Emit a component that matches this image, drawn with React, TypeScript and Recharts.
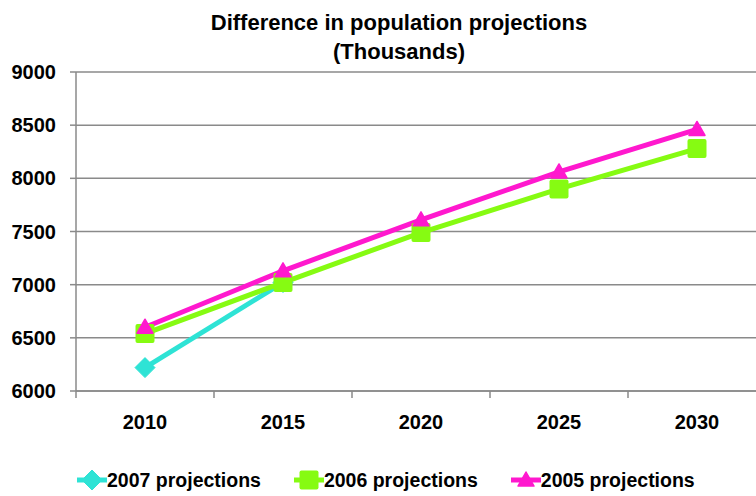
import React from 'react';
import { LineChart, Line, XAxis, YAxis, CartesianGrid } from 'recharts';

const years = ['2010', '2015', '2020', '2025', '2030'];
const proj2007 = [6220, 7020, null, null, null];
const proj2006 = [6540, 7020, 7490, 7900, 8280];
const proj2005 = [6600, 7130, 7610, 8060, 8460];
const yTicks = [6000, 6500, 7000, 7500, 8000, 8500, 9000];

const FONT = '"Liberation Sans", Arial, sans-serif';
const GRID = '#8a8a8a';
const PLOT_W = 690;

const series = [
  { key: 'p2007', name: '2007 projections', color: '#2ee3d5', shape: 'diamond' },
  { key: 'p2006', name: '2006 projections', color: '#86fb12', shape: 'square' },
  { key: 'p2005', name: '2005 projections', color: '#ff18ce', shape: 'triangle' },
];

const data = years.map((year, i) => ({
  year,
  p2007: proj2007[i],
  p2006: proj2006[i],
  p2005: proj2005[i],
}));

// marker shapes, centred on (cx, cy)
const Marker = ({ cx, cy, shape, color }: any) => {
  if (cx == null || cy == null) return null;
  if (shape === 'diamond') {
    const r = 10;
    return <polygon points={`${cx},${cy - r} ${cx + r},${cy} ${cx},${cy + r} ${cx - r},${cy}`} fill={color} stroke={color} strokeWidth={1} strokeLinejoin="round" />;
  }
  if (shape === 'square') {
    const s = 9.5;
    return <rect x={cx - s} y={cy - s} width={s * 2} height={s * 2} rx={2} fill={color} />;
  }
  const h = 8;
  return <polygon points={`${cx},${cy - h} ${cx + h},${cy + h * 0.75} ${cx - h},${cy + h * 0.75}`} fill={color} stroke={color} strokeWidth={1.5} strokeLinejoin="round" />;
};

const makeDot = (shape: string, color: string) => (props: any) => {
  const { cx, cy, index, value } = props;
  if (value == null) return <g key={`e-${index}`} />;
  return <Marker key={`${shape}-${index}`} cx={cx} cy={cy} shape={shape} color={color} />;
};

// x tick: label at the category centre, tick mark at the category's left edge
const XTick = (props: any) => {
  const { x, y, payload } = props;
  const half = PLOT_W / years.length / 2;
  return (
    <g>
      <line x1={x - half} y1={y} x2={x - half} y2={y + 7} stroke={GRID} strokeWidth={1.5} />
      <text x={x} y={y + 38} textAnchor="middle" fontFamily={FONT} fontWeight="bold" fontSize={20} fill="#000">
        {payload.value}
      </text>
    </g>
  );
};

const LegendRow = () => (
  <div
    style={{
      position: 'absolute',
      left: 77,
      top: 468,
      display: 'flex',
      alignItems: 'center',
      fontFamily: FONT,
      fontWeight: 'bold',
      fontSize: 19.5,
      color: '#000',
      whiteSpace: 'nowrap',
    }}
  >
    {series.map((s) => (
      <div key={s.key} style={{ display: 'flex', alignItems: 'center', marginRight: 33 }}>
        <svg width={30} height={24}>
          <line x1={0} y1={12} x2={30} y2={12} stroke={s.color} strokeWidth={5} />
          <Marker cx={15} cy={12} shape={s.shape} color={s.color} />
        </svg>
        <span>{s.name}</span>
      </div>
    ))}
  </div>
);

export default function App() {
  const pad = PLOT_W / years.length / 2;
  return (
    <div style={{ position: 'absolute', left: 0, top: 0, width: 756, height: 496, overflow: 'hidden', background: '#fff' }}>
      <div
        style={{
          position: 'absolute',
          left: 0,
          top: 8,
          width: 798,
          textAlign: 'center',
          fontFamily: FONT,
          fontWeight: 'bold',
          fontSize: 22,
          lineHeight: '29px',
          color: '#000',
        }}
      >
        Difference in population projections
        <br />
        (Thousands)
      </div>
      <div style={{ position: 'absolute', left: 0, top: 0 }}>
        <LineChart width={766} height={496} data={data} margin={{ top: 72, right: 0, bottom: 0, left: 0 }}>
          <CartesianGrid vertical={false} stroke={GRID} strokeWidth={1.5} />
          <XAxis
            dataKey="year"
            height={105}
            padding={{ left: pad, right: pad }}
            axisLine={{ stroke: GRID, strokeWidth: 1.5 }}
            tickLine={false}
            tickSize={0}
            tickMargin={0}
            tick={<XTick />}
            interval={0}
          />
          <YAxis
            width={76}
            domain={[6000, 9000]}
            ticks={yTicks}
            interval={0}
            axisLine={{ stroke: GRID, strokeWidth: 1.5 }}
            tickLine={{ stroke: GRID, strokeWidth: 1.5 }}
            tickSize={6}
            tickMargin={14}
            tick={{ fontFamily: FONT, fontWeight: 'bold', fontSize: 20, fill: '#000' }}
          />
          {series.map((s) => (
            <Line
              key={s.key}
              type="linear"
              dataKey={s.key}
              name={s.name}
              stroke={s.color}
              strokeWidth={5}
              dot={makeDot(s.shape, s.color)}
              activeDot={false}
              isAnimationActive={false}
            />
          ))}
        </LineChart>
      </div>
      <LegendRow />
    </div>
  );
}
